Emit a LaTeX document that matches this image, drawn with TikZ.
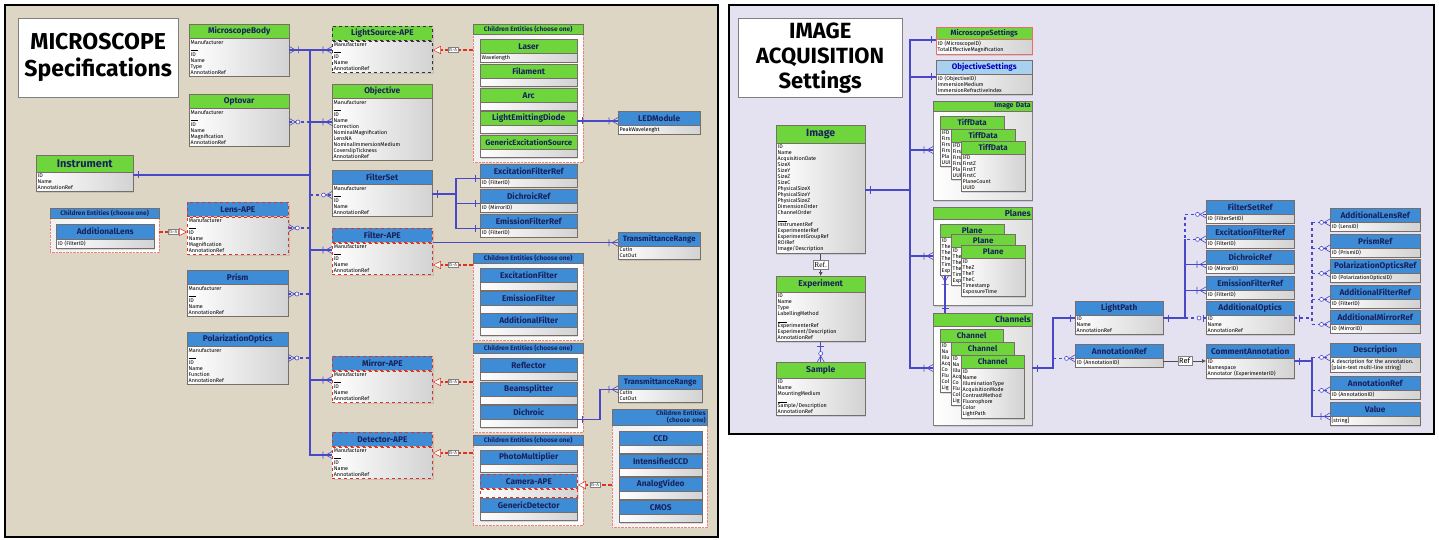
\documentclass[tikz,border=0pt]{standalone}
\usepackage{fontspec}
\setmainfont{Fira Sans}
\newfontfamily\reffont{Liberation Serif}
\usetikzlibrary{arrows.meta, shadows}

\definecolor{beige}{RGB}{221,214,197}
\definecolor{lavender}{RGB}{228,226,240}
\definecolor{hgreen}{RGB}{110,214,60}
\definecolor{hblue}{RGB}{62,140,214}
\definecolor{hlight}{RGB}{170,208,240}
\definecolor{navy}{RGB}{24,34,92}
\definecolor{linkc}{RGB}{72,72,200}
\definecolor{isared}{RGB}{224,48,36}
\definecolor{edge}{RGB}{120,110,105}

\begin{document}
\begin{tikzpicture}[x=1pt, y=-1pt,
        shade/.style={drop shadow={opacity=0.25, shadow xshift=1.2pt, shadow yshift=-1.5pt}},
        hdr/.style={anchor=north west, draw=edge, fill=#1, shade, minimum height=14, inner sep=0, text=navy, font=\bfseries\fontsize{8.3}{9}\selectfont},
        hdr/.default=hgreen,
        body/.style={anchor=north west, draw=edge, left color=white, right color=gray!35, shade, inner sep=1.5pt, text width=#1, align=left, font=\fontsize{5.4}{6}\selectfont},
        ape/.style={draw=isared, dashed, line width=0.8pt},
        grp/.style={anchor=north west, draw=isared!60, densely dotted, left color=gray!12, right color=white, inner sep=0},
        setgrp/.style={anchor=north west, draw=gray, left color=white, right color=gray!25, shade, inner sep=0},
        ghdr/.style={anchor=north west, draw=edge, fill=#1, inner sep=0, minimum height=10, text=navy, font=\bfseries\fontsize{6.5}{7}\selectfont},
        titlebox/.style={anchor=north west, draw=gray, fill=white, align=center, inner sep=0, font=\bfseries\fontsize{23}{27}\selectfont},
        link/.style={draw=linkc, line width=1.1pt},
        isa/.style={draw=isared, line width=1.3pt, dash pattern=on 4pt off 2pt, -{Triangle[length=8pt, width=8pt, fill=white, line width=0.5pt]}},
        isalbl/.style={draw=gray, solid, line width=0.4pt, fill=white, inner sep=1pt, text=gray!50!black, font=\fontsize{4.5}{4.5}\selectfont},
        refarr/.style={draw=black!70, line width=0.6pt, -{Latex[length=4pt, width=4pt]}},
        reflbl/.style={draw=gray, solid, line width=0.4pt, fill=white, inner sep=1.5pt, text=black, font=\fontsize{7.5}{7.5}\selectfont},
        crowbar/.pic={\draw[linkc, line width=0.6pt] (0,-3.5) -- (-6,0) -- (0,3.5) (-9,-3.5) -- (-9,3.5);},
        crowcirc/.pic={\draw[linkc, line width=0.6pt] (0,-3.5) -- (-6,0) -- (0,3.5); \draw[linkc, line width=0.6pt, fill=white] (-8.5,0) circle (2pt);},
        onebar/.pic={\draw[linkc, line width=0.6pt] (-5,-3.5) -- (-5,3.5);},
        circbar/.pic={\draw[linkc, line width=0.6pt] (-3,-3.5) -- (-3,3.5); \draw[linkc, line width=0.6pt, fill=white] (-7,0) circle (2pt);}
    ]
        \fill[white] (0,0) rectangle (1439,540);
        \draw[line width=1.6pt, fill=beige] (5,5) rectangle (718,537);
        \draw[line width=1.6pt, fill=lavender] (729,5) rectangle (1434,434);
        \useasboundingbox (0,0) rectangle (1439,540);

        % MICROSCOPE Specifications
        \node[titlebox, minimum width=160, minimum height=79] (title1) at (18,18) {MICROSCOPE\\Specifications};

        \node[hdr, minimum width=100] (mbody) at (189,24) {MicroscopeBody};
        \node[body=97pt] (mbody-b) at (mbody.south west) {Manufacturer\\\rule{7pt}{.3pt}\\ID\\Name\\Type\\AnnotationRef};
        \node[hdr, minimum width=100] (optovar) at (189,94) {Optovar};
        \node[body=97pt] (optovar-b) at (optovar.south west) {Manufacturer\\\rule{7pt}{.3pt}\\ID\\Name\\Magnification\\AnnotationRef};
        \node[hdr, minimum width=97, minimum height=17, font=\bfseries\fontsize{11}{12}\selectfont] (instr) at (36,155) {Instrument};
        \node[body=94pt] (instr-b) at (instr.south west) {ID\\Name\\AnnotationRef};

        \node[grp, minimum width=109, minimum height=44] (lensgrp) at (50,208) {};
        \node[ghdr=hblue, minimum width=109] (lensgrp-h) at (50,208) {Children Entities (choose one)};
        \node[hdr=hblue, minimum width=98, minimum height=15] (addlens) at (56,224) {AdditionalLens};
        \node[body=95pt, minimum height=9] (addlens-b) at (addlens.south west) {ID (FilterID)};

        \node[hdr=hblue, ape, minimum width=101] (lensape) at (187,202) {Lens-APE};
        \node[body=98pt, ape] (lensape-b) at (lensape.south west) {Manufacturer\\\rule{7pt}{.3pt}\\ID\\Name\\Magnification\\AnnotationRef};
        \node[hdr=hblue, minimum width=101] (prism) at (187,270) {Prism};
        \node[body=98pt] (prism-b) at (prism.south west) {Manufacturer\\\rule{7pt}{.3pt}\\ID\\Name\\AnnotationRef};
        \node[hdr=hblue, minimum width=101] (polopt) at (187,332) {PolarizationOptics};
        \node[body=98pt] (polopt-b) at (polopt.south west) {Manufacturer\\\rule{7pt}{.3pt}\\ID\\Name\\Function\\AnnotationRef};

        \node[hdr, draw=black!80, dashed, line width=0.8pt, minimum width=100] (lsape) at (332,26) {LightSource-APE};
        \node[body=97pt, draw=black!80, dashed, line width=0.8pt] (lsape-b) at (lsape.south west) {Manufacturer\\\rule{7pt}{.3pt}\\ID\\Name\\AnnotationRef};
        \node[hdr, minimum width=100] (objective) at (332,84) {Objective};
        \node[body=97pt] (objective-b) at (objective.south west) {Manufacturer\\\rule{7pt}{.3pt}\\ID\\Name\\Correction\\NominalMagnification\\LensNA\\NominalImmersionMedium\\CoverslipTickness\\AnnotationRef};
        \node[hdr=hblue, minimum width=100] (filterset) at (332,170) {FilterSet};
        \node[body=97pt] (filterset-b) at (filterset.south west) {Manufacturer\\\rule{7pt}{.3pt}\\ID\\Name\\AnnotationRef};
        \node[hdr=hblue, ape, minimum width=100] (filterape) at (332,228) {Filter-APE};
        \node[body=97pt, ape] (filterape-b) at (filterape.south west) {Manufacturer\\\rule{7pt}{.3pt}\\ID\\Name\\AnnotationRef};
        \node[hdr=hblue, ape, minimum width=100] (mirrorape) at (332,356) {Mirror-APE};
        \node[body=97pt, ape] (mirrorape-b) at (mirrorape.south west) {Manufacturer\\\rule{7pt}{.3pt}\\ID\\Name\\AnnotationRef};
        \node[hdr=hblue, ape, minimum width=100] (detape) at (332,432) {Detector-APE};
        \node[body=97pt, ape] (detape-b) at (detape.south west) {Manufacturer\\\rule{7pt}{.3pt}\\ID\\Name\\AnnotationRef};

        % children of the APEs
        \node[grp, minimum width=110, minimum height=138] (lightgrp) at (473,24) {};
        \node[ghdr=hgreen, minimum width=110] (lightgrp-h) at (473,24) {Children Entities (choose one)};
        \foreach \n/\t/\y/\a in {laser/Laser/39/Wavelength, filament/Filament/64/{}, arc/Arc/88/{}, led/LightEmittingDiode/111/{}} {
            \node[hdr, minimum width=97] (\n) at (480,\y) {\t};
            \node[body=94pt, minimum height=8] (\n-b) at (\n.south west) {\a};
        }
        \node[hdr, minimum width=97, font=\bfseries\fontsize{7.8}{9}\selectfont] (gensrc) at (480,135) {GenericExcitationSource};
        \node[body=94pt, minimum height=8] (gensrc-b) at (gensrc.south west) {};
        \foreach \n/\t/\y/\a in {exref/ExcitationFilterRef/164/ID (FilterID), dichref/DichroicRef/189/ID (MirrorID), emref/EmissionFilterRef/214/ID (FilterID)} {
            \node[hdr=hblue, minimum width=97] (\n) at (480,\y) {\t};
            \node[body=94pt, minimum height=8] (\n-b) at (\n.south west) {\a};
        }
        \node[grp, minimum width=110, minimum height=87] (filtgrp) at (473,253) {};
        \node[ghdr=hblue, minimum width=110] (filtgrp-h) at (473,253) {Children Entities (choose one)};
        \node[grp, minimum width=110, minimum height=89] (mirgrp) at (473,343) {};
        \node[ghdr=hblue, minimum width=110] (mirgrp-h) at (473,343) {Children Entities (choose one)};
        \node[grp, minimum width=110, minimum height=90] (detgrp) at (473,435) {};
        \node[ghdr=hblue, minimum width=110] (detgrp-h) at (473,435) {Children Entities (choose one)};
        \foreach \n/\t/\y in {exfilt/ExcitationFilter/268, emfilt/EmissionFilter/291, addfilt/AdditionalFilter/313, reflector/Reflector/358, beamsplit/Beamsplitter/382, dichroic/Dichroic/405, photomult/PhotoMultiplier/450, gendet/GenericDetector/498} {
            \node[hdr=hblue, minimum width=97] (\n) at (480,\y) {\t};
            \node[body=94pt, minimum height=8] (\n-b) at (\n.south west) {};
        }
        \node[hdr=hblue, ape, minimum width=97] (camape) at (480,474) {Camera-APE};
        \node[body=94pt, ape, minimum height=8] (camape-b) at (camape.south west) {};

        \node[grp, minimum width=95, minimum height=118] (camgrp) at (612,409) {};
        \node[ghdr=hblue, minimum width=95, minimum height=16, text width=92pt, align=right] (camgrp-h) at (612,409) {Children Entities\\(choose one)};
        \foreach \n/\t/\y in {ccd/CCD/431, iccd/IntensifiedCCD/454, analog/AnalogVideo/477, cmos/CMOS/500} {
            \node[hdr=hblue, minimum width=83] (\n) at (619,\y) {\t};
            \node[body=80pt, minimum height=8] (\n-b) at (\n.south west) {};
        }

        \node[hdr=hblue, minimum width=82] (ledmod) at (618,111) {LEDModule};
        \node[body=79pt, minimum height=8] (ledmod-b) at (ledmod.south west) {PeakWavelenght};
        \node[hdr=hblue, minimum width=82, font=\bfseries\fontsize{7.8}{9}\selectfont] (trange1) at (618,232) {TransmittanceRange};
        \node[body=79pt] (trange1-b) at (trange1.south west) {CutIn\\CutOut};
        \node[hdr=hblue, minimum width=84, font=\bfseries\fontsize{7.8}{9}\selectfont] (trange2) at (618,375) {TransmittanceRange};
        \node[body=81pt] (trange2-b) at (trange2.south west) {CutIn\\CutOut};

        % instrument links
        \coordinate (tkTop) at (310,50);
        \coordinate (tkOpt) at (310,122);
        \coordinate (tkIns) at (310,175);
        \coordinate (tkFs) at (310,195);
        \coordinate (tkLens) at (310,228);
        \coordinate (tkFilt) at (310,250);
        \coordinate (tkPrism) at (310,294);
        \coordinate (tkPol) at (310,358);
        \coordinate (tkMir) at (310,380);
        \coordinate (tkDet) at (310,455);
        \draw[link] (tkTop) -- (tkDet) -- (detape-b.west |- tkDet);
        \draw[link] (mbody-b.east |- tkTop) -- (lsape-b.west |- tkTop);
        \draw[link, dashed] (optovar-b.east |- tkOpt) -- (tkOpt);
        \draw[link] (tkOpt) -- (objective-b.west |- tkOpt);
        \draw[link] (instr-b.east |- tkIns) -- (tkIns);
        \draw[link, dashed] (tkFs) -- (filterset-b.west |- tkFs);
        \draw[link, dashed] (lensape-b.east |- tkLens) -- (tkLens);
        \draw[link] (tkFilt) -- (filterape-b.west |- tkFilt);
        \draw[link, dashed] (prism-b.east |- tkPrism) -- (tkPrism);
        \draw[link, dashed] (polopt-b.east |- tkPol) -- (tkPol);
        \draw[link] (tkMir) -- (mirrorape-b.west |- tkMir);
        \pic[rotate=180] at (mbody-b.east |- tkTop) {crowbar};
        \pic at (lsape-b.west |- tkTop) {crowbar};
        \pic[rotate=180] at (optovar-b.east |- tkOpt) {crowcirc};
        \pic at (objective-b.west |- tkOpt) {crowbar};
        \pic[rotate=180] at (instr-b.east |- tkIns) {onebar};
        \pic at (filterset-b.west |- tkFs) {crowcirc};
        \pic[rotate=180] at (lensape-b.east |- tkLens) {crowcirc};
        \pic at (filterape-b.west |- tkFilt) {crowbar};
        \pic[rotate=180] at (prism-b.east |- tkPrism) {crowcirc};
        \pic[rotate=180] at (polopt-b.east |- tkPol) {crowcirc};
        \pic at (mirrorape-b.west |- tkMir) {crowbar};
        \pic at (detape-b.west |- tkDet) {crowbar};

        \coordinate (fsx) at (456,194);
        \draw[link] (filterset-b.east |- fsx) -- (fsx);
        \draw[link] (exref.south west) -| (fsx) |- (emref.south west);
        \draw[link] (fsx |- dichref.south west) -- (dichref.south west);
        \pic[rotate=180] at (filterset-b.east |- fsx) {onebar};
        \foreach \r in {exref, dichref, emref} \pic at (\r.south west) {onebar};

        \coordinate (ledy) at (0,121);
        \draw[link] (led.east |- ledy) -- (ledmod.west |- ledy);
        \pic[rotate=180] at (led.east |- ledy) {onebar};
        \pic at (ledmod.west |- ledy) {crowbar};
        \draw[link] (filterape.south east) -- (trange1.west |- filterape.south east);
        \pic at (trange1.west |- filterape.south east) {crowbar};
        \coordinate (dcx) at (600,0);
        \draw[link] (dichroic.south east) -- (dichroic.south east -| dcx) |- (trange2.south west);
        \pic[rotate=180] at (dichroic.south east) {onebar};
        \pic at (trange2.south west) {crowbar};

        % IS-A
        \coordinate (isaL) at (0,232);
        \coordinate (isaF) at (0,265);
        \coordinate (isaM) at (0,382);
        \coordinate (isaD) at (0,453);
        \coordinate (isaC) at (0,485);
        \draw[isa] (lensgrp.east |- isaL) -- (lensape-b.west |- isaL) node[isalbl, midway] {IS-A};
        \draw[isa] (lightgrp.west |- tkTop) -- (lsape-b.east |- tkTop) node[isalbl, midway] {IS-A};
        \draw[isa] (filtgrp.west |- isaF) -- (filterape-b.east |- isaF) node[isalbl, midway] {IS-A};
        \draw[isa] (mirgrp.west |- isaM) -- (mirrorape-b.east |- isaM) node[isalbl, midway] {IS-A};
        \draw[isa] (detgrp.west |- isaD) -- (detape-b.east |- isaD) node[isalbl, midway] {IS-A};
        \draw[isa] (camgrp.west |- isaC) -- (camape.east |- isaC) node[isalbl, midway] {IS-A};

        % IMAGE ACQUISITION Settings
        \node[titlebox, minimum width=164, minimum height=79, font=\bfseries\fontsize{22}{25}\selectfont] (title2) at (738,18) {IMAGE\\ACQUISITION\\Settings};

        \node[hdr, minimum width=89, minimum height=18, font=\bfseries\fontsize{10.5}{11}\selectfont] (image) at (776,125) {Image};
        \node[body=86pt] (image-b) at (image.south west) {ID\\Name\\AcquisitionDate\\SizeX\\SizeY\\SizeZ\\SizeC\\PhysicalSizeX\\PhysicalSizeY\\PhysicalSizeZ\\DimensionOrder\\ChannelOrder\\\rule{9pt}{.3pt}\\InstrumentRef\\ExperimenterRef\\ExperimentGroupRef\\ROIRef\\Image/Description};
        \node[hdr, minimum width=89, minimum height=16, font=\bfseries\fontsize{8.5}{9}\selectfont] (experiment) at (776,276) {Experiment};
        \node[body=86pt] (experiment-b) at (experiment.south west) {ID\\Name\\Type\\LabellingMethod\\\rule{9pt}{.3pt}\\ExperimenterRef\\Experiment/Description\\AnnotationRef};
        \node[hdr, minimum width=89, minimum height=16, font=\bfseries\fontsize{8.5}{9}\selectfont] (sample) at (776,362) {Sample};
        \node[body=86pt] (sample-b) at (sample.south west) {ID\\Name\\MountingMedium\\\rule{9pt}{.3pt}\\Sample/Description\\AnnotationRef};

        \node[hdr, draw=isared!70, minimum width=96, minimum height=12, font=\bfseries\fontsize{7.5}{8}\selectfont] (msettings) at (936,27) {MicroscopeSettings};
        \node[body=93pt, draw=isared!70] (msettings-b) at (msettings.south west) {ID (MicroscopeID)\\TotalEffectiveMagnification};
        \node[hdr=hlight, text=blue!75!black, minimum width=96, font=\bfseries\fontsize{8}{9}\selectfont] (objsettings) at (936,60) {ObjectiveSettings};
        \node[body=93pt] (objsettings-b) at (objsettings.south west) {ID (ObjectiveID)\\ImmersionMedium\\ImmersionRefractiveIndex};

        % stacked data, the boxes behind show only the start of their lines
        \node[setgrp, minimum width=99, minimum height=99] (imgdata) at (933,101) {};
        \node[ghdr=hgreen, minimum width=99, text width=96pt, align=right, font=\bfseries\fontsize{7}{8}\selectfont] (imgdata-h) at (933,101) {Image Data};
        \foreach \i/\x/\y/\a in {1/940/116/{IFD\\Firs\\Firs\\Firs\\Pla\\UUI}, 2/951/129/{IFD\\Firs\\Firs\\Firs\\Pla\\UUI}, 3/961/141/{IFD\\FirstZ\\FirstT\\FirstC\\PlaneCount\\UUID}} {
            \node[hdr, minimum width=64, minimum height=13, font=\bfseries\fontsize{8}{9}\selectfont] (tiff\i) at (\x,\y) {TiffData};
            \node[body=61pt] (tiff\i-b) at (tiff\i.south west) {\a};
        }
        \node[setgrp, minimum width=99, minimum height=98] (planesgrp) at (933,207) {};
        \node[ghdr=hgreen, minimum width=99, minimum height=12, text width=96pt, align=right, font=\bfseries\fontsize{8.5}{9}\selectfont] (planesgrp-h) at (933,207) {Planes};
        \foreach \i/\x/\y/\a in {1/940/224/{ID\\The\\The\\The\\Tim\\Exp}, 2/951/234/{ID\\The\\The\\The\\Tim\\Exp}, 3/961/245/{ID\\TheZ\\TheT\\TheC\\Timestamp\\ExposureTime}} {
            \node[hdr, minimum width=64, minimum height=13, font=\bfseries\fontsize{8}{9}\selectfont] (plane\i) at (\x,\y) {Plane};
            \node[body=61pt] (plane\i-b) at (plane\i.south west) {\a};
        }
        \node[setgrp, minimum width=99, minimum height=112] (chgrp) at (933,313) {};
        \node[ghdr=hgreen, minimum width=99, minimum height=13, text width=96pt, align=right, font=\bfseries\fontsize{8.5}{9}\selectfont] (chgrp-h) at (933,313) {Channels};
        \foreach \i/\x/\y/\a in {1/940/329/{ID\\Na\\Illu\\Acq\\Co\\Flu\\Col\\Lig}, 2/951/342/{ID\\Na\\Illu\\Acq\\Co\\Flu\\Col\\Lig}, 3/961/355/{ID\\Name\\IlluminationType\\AcquisitionMode\\ContrastMethod\\Fluorophore\\Color\\LightPath}} {
            \node[hdr, minimum width=63, minimum height=13, font=\bfseries\fontsize{8}{9}\selectfont] (chan\i) at (\x,\y) {Channel};
            \node[body=60pt] (chan\i-b) at (chan\i.south west) {\a};
        }

        \node[hdr=hblue, minimum width=88] (lightpath) at (1075,301) {LightPath};
        \node[body=85pt] (lightpath-b) at (lightpath.south west) {ID\\Name\\AnnotationRef};
        \node[hdr=hblue, minimum width=88] (annref) at (1075,344) {AnnotationRef};
        \node[body=85pt, minimum height=8] (annref-b) at (annref.south west) {ID (AnnotationID)};
        \node[hdr=hblue, minimum width=88] (comment) at (1206,344) {CommentAnnotation};
        \node[body=85pt] (comment-b) at (comment.south west) {ID\\Namespace\\Annotator (ExperimenterID)};
        \foreach \n/\t/\y/\a in {fsref/FilterSetRef/200/ID (FilterSetID), exfref/ExcitationFilterRef/225/ID (FilterID), dichref2/DichroicRef/250/ID (MirrorID), emfref/EmissionFilterRef/276/ID (FilterID)} {
            \node[hdr=hblue, minimum width=88] (\n) at (1206,\y) {\t};
            \node[body=85pt, minimum height=8] (\n-b) at (\n.south west) {\a};
        }
        \node[hdr=hblue, minimum width=88] (addopt) at (1206,301) {AdditionalOptics};
        \node[body=85pt] (addopt-b) at (addopt.south west) {ID\\Name\\AnnotationRef};
        \foreach \n/\t/\y/\a in {alensref/AdditionalLensRef/208/ID (LensID), prismref/PrismRef/234/ID (PrismID), poptref/PolarizationOpticsRef/259/ID (PolarizationOpticsID), afiltref/AdditionalFilterRef/285/ID (FilterID), amirref/AdditionalMirrorRef/310/ID (MirrorID), annref2/AnnotationRef/376/ID (AnnotationID), value/Value/402/[string]} {
            \node[hdr=hblue, minimum width=90] (\n) at (1330,\y) {\t};
            \node[body=87pt, minimum height=8] (\n-b) at (\n.south west) {\a};
        }
        \node[hdr=hblue, minimum width=90] (descr) at (1330,343) {Description};
        \node[body=87pt] (descr-b) at (descr.south west) {A description for the annotation.\\{[plain-text multi-line string]}};

        % image links
        \coordinate (rkTop) at (910,40);
        \coordinate (rkObj) at (910,77);
        \coordinate (rkTif) at (910,150);
        \coordinate (rkImg) at (910,190);
        \coordinate (rkPl) at (910,256);
        \coordinate (rkCh) at (910,368);
        \draw[link] (msettings-b.west |- rkTop) -- (rkTop) -- (rkCh) -- (chgrp.west |- rkCh);
        \draw[link] (rkObj) -- (objsettings-b.west |- rkObj);
        \draw[link] (image-b.east |- rkImg) -- (rkImg);
        \draw[link] (rkTif) -- (imgdata.west |- rkTif);
        \draw[link] (rkPl) -- (planesgrp.west |- rkPl);
        \pic at (msettings-b.west |- rkTop) {onebar};
        \pic at (objsettings-b.west |- rkObj) {onebar};
        \pic[rotate=180] at (image-b.east |- rkImg) {onebar};
        \pic at (imgdata.west |- rkTif) {crowbar};
        \pic at (planesgrp.west |- rkPl) {crowbar};
        \pic at (chgrp.west |- rkCh) {crowbar};

        \draw[refarr] (image-b.south) -- (experiment.north) node[reflbl, midway, font=\reffont\fontsize{7.5}{7.5}\selectfont] {Ref.};
        \draw[link] (experiment-b.south) -- (sample.north);
        \pic[rotate=90] at (experiment-b.south) {onebar};
        \pic[rotate=-90] at (sample.north) {crowcirc};

        \coordinate (pcx) at (945,0);
        \draw[link] (plane1-b.south -| pcx) -- (chgrp.north -| pcx);
        \pic[rotate=90] at (plane1-b.south -| pcx) {crowbar};
        \pic[rotate=-90] at (chgrp.north -| pcx) {onebar};

        \coordinate (lpx) at (1053,0);
        \coordinate (lpy) at (0,318);
        \draw[link] (chgrp.east |- rkCh) -- (rkCh -| lpx) |- (lightpath-b.west |- lpy);
        \draw[link, dashed] (lpx |- annref.south west) -- (annref.south west);
        \pic[rotate=180] at (chgrp.east |- rkCh) {onebar};
        \pic at (lightpath-b.west |- lpy) {onebar};
        \pic at (annref.south west) {crowcirc};

        \coordinate (cay) at (0,361);
        \draw[refarr] (annref-b.east |- cay) -- (comment-b.west |- cay) node[reflbl, midway] {Ref};

        % light path links
        \coordinate (lrx) at (1185,0);
        \draw[link] (lightpath-b.east |- lpy) -- (lrx |- lpy);
        \draw[link, dashed] (fsref.south west) -| (lrx |- exfref.south west) -- (exfref.south west);
        \draw[link] (lrx |- exfref.south west) -- (lrx |- lpy);
        \draw[link] (lrx |- dichref2.south west) -- (dichref2.south west);
        \draw[link] (lrx |- emfref.south west) -- (emfref.south west);
        \draw[link, dashed] (lrx |- lpy) -- (addopt-b.west |- lpy);
        \pic[rotate=180] at (lightpath-b.east |- lpy) {onebar};
        \pic at (fsref.south west) {crowcirc};
        \pic at (exfref.south west) {crowcirc};
        \pic at (dichref2.south west) {crowbar};
        \pic at (emfref.south west) {crowbar};
        \pic at (addopt-b.west |- lpy) {circbar};

        \coordinate (aox) at (1312,0);
        \draw[link, dashed] (addopt-b.east |- lpy) -- (aox |- lpy);
        \draw[link, dashed] (aox |- alensref.south west) -- (aox |- amirref.south west);
        \foreach \r in {alensref, prismref, poptref, afiltref, amirref} {
            \draw[link, dashed] (aox |- \r.south west) -- (\r.south west);
            \pic at (\r.south west) {crowcirc};
        }
        \pic[rotate=180] at (addopt-b.east |- lpy) {onebar};

        \draw[link] (comment-b.east |- cay) -- (aox |- cay);
        \draw[link] (aox |- descr.south west) -- (aox |- value.south west) -- (value.south west);
        \draw[link, dashed] (aox |- descr.south west) -- (descr.south west);
        \draw[link, dashed] (aox |- annref2.south west) -- (annref2.south west);
        \pic[rotate=180] at (comment-b.east |- cay) {onebar};
        \pic at (descr.south west) {crowcirc};
        \pic at (annref2.south west) {crowcirc};
        \pic at (value.south west) {crowbar};

    \end{tikzpicture}
\end{document}
